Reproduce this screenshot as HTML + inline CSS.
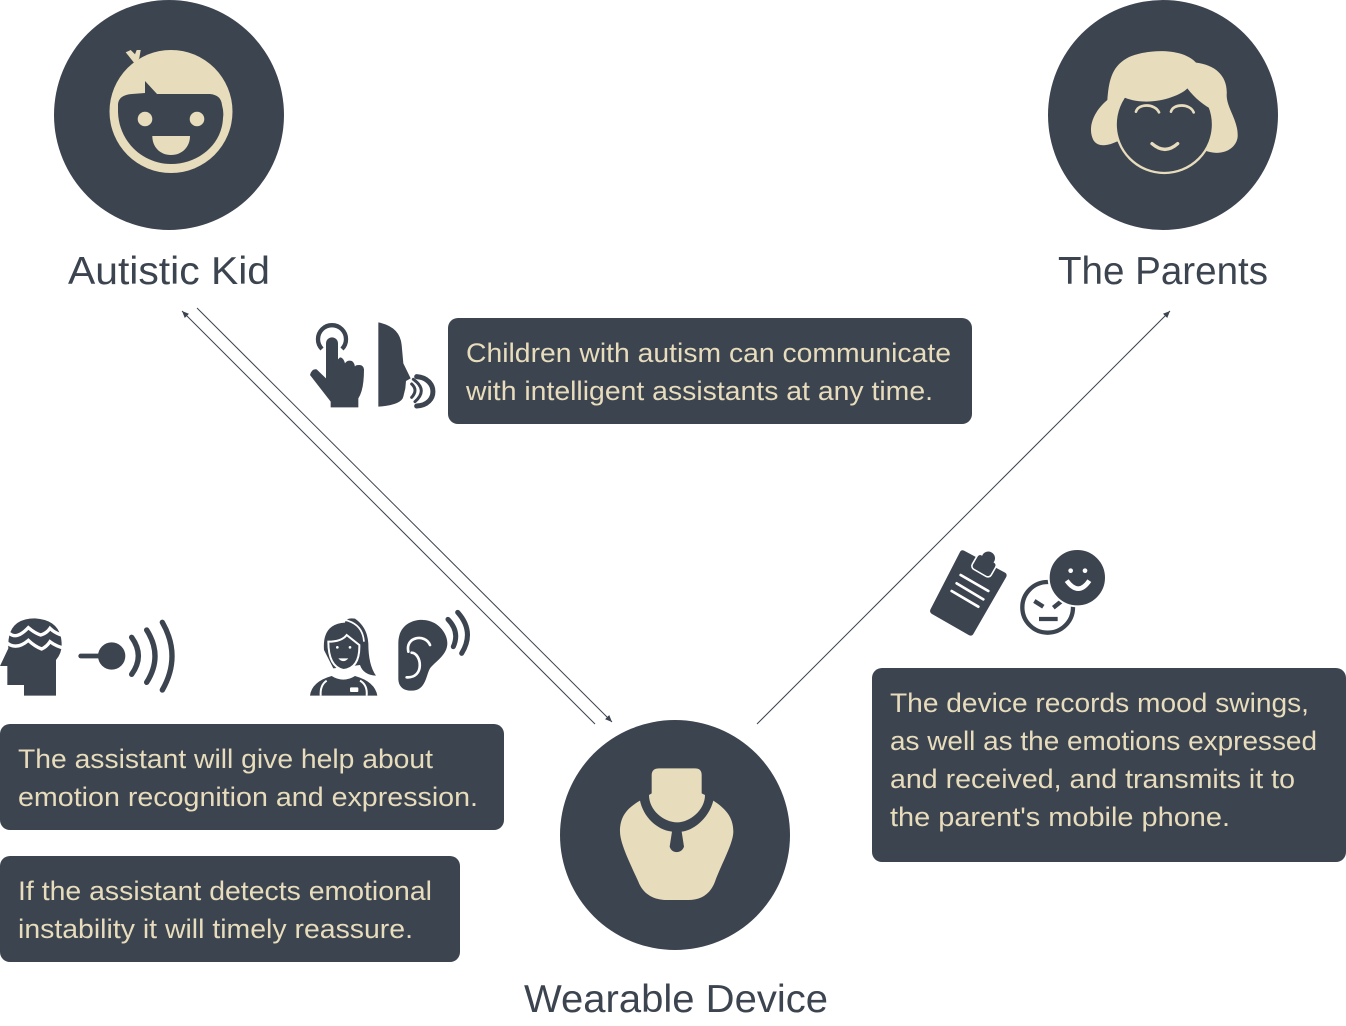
<!DOCTYPE html>
<html><head><meta charset="utf-8"><style>
html,body{margin:0;padding:0;background:#fff;width:1346px;height:1026px;overflow:hidden}
svg{display:block}
text{font-family:"Liberation Sans",sans-serif}
.b{font-size:27px;fill:#e7dcbc}
.l{font-size:39px;fill:#3c4450}
</style></head><body>
<svg width="1346" height="1026" viewBox="0 0 1346 1026" xmlns="http://www.w3.org/2000/svg">
<defs>
<marker id="a" markerWidth="8" markerHeight="8" refX="7" refY="3" orient="auto" markerUnits="userSpaceOnUse"><path d="M0 0L7 3L0 6Z" fill="#3c4450"/></marker>
</defs>
<circle cx="169" cy="115" r="115" fill="#3c4450"/>
<circle cx="1163" cy="115" r="115" fill="#3c4450"/>
<circle cx="675" cy="835" r="115" fill="#3c4450"/>

<!-- kid -->
<circle cx="171" cy="111.5" r="61.5" fill="#e7dcbc"/>
<path d="M125.7 52.3L130.7 50L135 54.3L136.7 50L140.7 50L139.3 58.3L135 64Z" fill="#e7dcbc"/>
<path d="M118 104Q119 95 132 94L145 93V81L157 94H210Q221 95 222 105Q224 112 223 118C222 145 198 164 171 164C144 164 119 143 118 112Z" fill="#3c4450"/>
<circle cx="145" cy="119" r="7.3" fill="#e7dcbc"/>
<circle cx="197" cy="119" r="7.3" fill="#e7dcbc"/>
<path d="M152.3 136H190C190 147 182 155 171 155C160 155 152.3 147 152.3 136Z" fill="#e7dcbc"/>

<!-- parent -->
<g transform="translate(1070,30) scale(.33333)">
<path d="M112 210C116 160 122 112 170 85C220 58 335 50 378 98C438 105 474 140 470 195C470 235 505 270 503 320C500 355 460 378 415 365L300 330L140 335C120 345 85 355 70 330C50 290 75 240 112 210Z" fill="#e7dcbc"/>
<circle cx="283" cy="283" r="146" fill="#3c4450" stroke="#e7dcbc" stroke-width="7"/>
<path d="M157 200C230 235 330 200 352 175C375 205 400 225 432 242L470 195L378 98L175 85L130 150Z" fill="#e7dcbc"/>
<g fill="none" stroke="#e7dcbc" stroke-width="8" stroke-linecap="round">
<path d="M198 245C205 220 255 220 267 247"/>
<path d="M303 245C310 220 360 220 371 247"/>
<path d="M246 341Q285 375 323 341" stroke-width="10"/>
</g>
</g>

<!-- necklace -->
<g transform="translate(600,750) scale(.33333)" fill="#e7dcbc">
<path d="M155 75Q155 55 178 55H285Q305 55 305 75V130L315 135C315 180 270 217 232 217C190 217 147 180 147 135L155 130Z"/>
<path d="M120 152C80 175 60 200 60 245C60 280 90 340 115 395C130 435 165 450 200 450H265C300 450 330 435 345 395C365 340 400 280 400 245C400 200 375 175 340 152C325 210 275 243 245 245L252 290C245 312 215 312 209 290L216 245C170 240 130 200 120 152Z"/>
</g>

<!-- connectors -->
<g stroke="#3c4450" stroke-width="1" fill="none">
<line x1="595" y1="724" x2="182" y2="311" marker-end="url(#a)"/>
<line x1="197" y1="308" x2="612" y2="722" marker-end="url(#a)"/>
<line x1="757" y1="724" x2="1170" y2="311" marker-end="url(#a)"/>
</g>

<!-- hand + speak -->
<g transform="translate(300,310) scale(.33333)">
<path d="M66 117A42 42 0 1 1 126 117" fill="none" stroke="#3c4450" stroke-width="13"/>
<path d="M78 100A18 18 0 0 1 114 100V148L120 142Q130 142 135 160Q140 152 150 152Q162 152 165 170Q165 165 178 165Q190 165 192 178Q192 240 175 265V292H92V275L30 195Q35 175 50 178L78 205Z" fill="#3c4450" stroke="#fff" stroke-width="0"/>
<path d="M235 37Q300 50 305 105L310 160L332 205L318 213L316 235L310 260Q305 285 235 290Z" fill="#3c4450"/>
<g fill="none" stroke="#3c4450" stroke-linecap="round">
<path d="M335 222Q355 240 335 262" stroke-width="9"/>
<path d="M340 208Q385 240 345 275" stroke-width="9"/>
<path d="M350 200C415 205 415 285 350 288" stroke-width="15"/>
</g>
</g>

<!-- head + sender -->
<g transform="translate(0,605) scale(.33333)">
<path d="M22 240V183H0L25 130Q20 40 105 40Q185 45 185 120Q185 145 168 165V272H72V240Z" fill="#3c4450"/>
<g fill="none" stroke="#fff" stroke-width="10">
<path d="M28 85Q50 105 85 68Q105 85 122 90Q140 85 150 70Q165 85 190 92"/>
<path d="M15 108Q45 140 85 106Q105 125 125 132Q140 125 150 110Q170 125 195 130"/>
</g>
<g stroke="#3c4450" fill="none" stroke-linecap="round" stroke-width="16">
<path d="M242 153H300" stroke-width="14"/>
<path d="M395 97Q435 153 395 208"/>
<path d="M440 75Q490 153 440 232"/>
<path d="M487 52Q545 153 487 255"/>
</g>
<circle cx="335" cy="153" r="41" fill="#3c4450"/>
</g>

<!-- woman + ear -->
<g transform="translate(300,600) scale(.33333)">
<path d="M72 150Q66 72 135 68Q138 52 165 56Q202 82 205 130Q205 195 228 227Q190 225 180 195L100 205Z" fill="#3c4450"/>
<path d="M135 60Q188 72 192 125" fill="none" stroke="#fff" stroke-width="5"/>
<path d="M85 125Q125 125 140 105Q165 125 178 135Q180 205 130 210Q85 200 85 125Z" fill="#3c4450" stroke="#fff" stroke-width="6"/>
<circle cx="112" cy="142" r="4" fill="#fff"/><circle cx="150" cy="142" r="4" fill="#fff"/>
<path d="M115 175Q130 192 145 175" fill="#fff"/>
<path d="M30 287Q35 245 95 228Q130 250 165 228Q225 245 232 287Z" fill="#3c4450"/>
<path d="M62 287Q60 255 80 242M200 287Q203 255 180 242" stroke="#fff" stroke-width="6" fill="none"/>
<rect x="150" y="262" width="25" height="14" rx="3" fill="#fff"/>
<path d="M295 130C295 70 345 58 370 60C415 62 442 100 442 130C442 165 405 185 390 205C378 225 378 272 335 272C305 272 295 255 295 235Z" fill="#3c4450"/>
<path d="M325 155C315 110 375 100 390 135M320 232C375 235 365 160 335 158" fill="none" stroke="#fff" stroke-width="8" stroke-linecap="round"/>
<g fill="none" stroke="#3c4450" stroke-width="15" stroke-linecap="round">
<path d="M444 58Q480 95 460 140"/>
<path d="M473 37Q525 95 485 160"/>
</g>
</g>

<!-- clipboard + faces -->
<g transform="translate(920,540) scale(.33333)">
<path d="M132 32L255 98Q263 103 258 112L160 282Q155 290 146 285L36 222Q27 216 32 207L120 36Q124 28 132 32Z" fill="#3c4450"/>
<g transform="rotate(30 195 72)" fill="#3c4450" stroke="#fff" stroke-width="10" style="paint-order:stroke">
<rect x="165" y="55" width="60" height="45" rx="9"/>
<circle cx="195" cy="52" r="20"/>
<rect x="165" y="55" width="60" height="45" rx="9" stroke="none"/>
</g>
<g stroke="#fff" stroke-width="8" stroke-linecap="round">
<path d="M122 105L205 153"/><path d="M110 130L190 178"/><path d="M95 153L175 200"/>
</g>
<circle cx="383" cy="202" r="76" fill="#fff" stroke="#3c4450" stroke-width="13"/>
<g stroke="#3c4450" stroke-width="13" fill="none">
<path d="M343 183L370 200"/><path d="M425 183L400 203"/><path d="M357 237H413"/>
</g>
<circle cx="472" cy="113" r="86" fill="#3c4450" stroke="#fff" stroke-width="6"/>
<circle cx="452" cy="92" r="7" fill="#fff"/><circle cx="495" cy="92" r="7" fill="#fff"/>
<path d="M440 122Q475 170 508 122" fill="none" stroke="#fff" stroke-width="14"/>
</g>

<!-- boxes -->
<g fill="#3c4450">
<rect x="448" y="318" width="524" height="106" rx="10"/>
<rect x="0" y="724" width="504" height="106" rx="10"/>
<rect x="0" y="856" width="460" height="106" rx="10"/>
<rect x="872" y="668" width="474" height="194" rx="10"/>
</g>

<g class="b">
<text class="b" x="466" y="362" textLength="485" lengthAdjust="spacingAndGlyphs">Children with autism can communicate</text>
<text class="b" x="466" y="400" textLength="467" lengthAdjust="spacingAndGlyphs">with intelligent assistants at any time.</text>
<text class="b" x="18" y="768" textLength="415" lengthAdjust="spacingAndGlyphs">The assistant will give help about</text>
<text class="b" x="18" y="806" textLength="460" lengthAdjust="spacingAndGlyphs">emotion recognition and expression.</text>
<text class="b" x="18" y="900" textLength="414" lengthAdjust="spacingAndGlyphs">If the assistant detects emotional</text>
<text class="b" x="18" y="938" textLength="395" lengthAdjust="spacingAndGlyphs">instability it will timely reassure.</text>
<text class="b" x="890" y="712" textLength="419" lengthAdjust="spacingAndGlyphs">The device records mood swings,</text>
<text class="b" x="890" y="750" textLength="427" lengthAdjust="spacingAndGlyphs">as well as the emotions expressed</text>
<text class="b" x="890" y="788" textLength="405" lengthAdjust="spacingAndGlyphs">and received, and transmits it to</text>
<text class="b" x="890" y="826" textLength="340" lengthAdjust="spacingAndGlyphs">the parent's mobile phone.</text>
</g>
<text class="l" x="68" y="284" textLength="202" lengthAdjust="spacingAndGlyphs">Autistic Kid</text>
<text class="l" x="1058" y="284" textLength="210" lengthAdjust="spacingAndGlyphs">The Parents</text>
<text class="l" x="524" y="1012" textLength="304" lengthAdjust="spacingAndGlyphs">Wearable Device</text>
</svg>
</body></html>
